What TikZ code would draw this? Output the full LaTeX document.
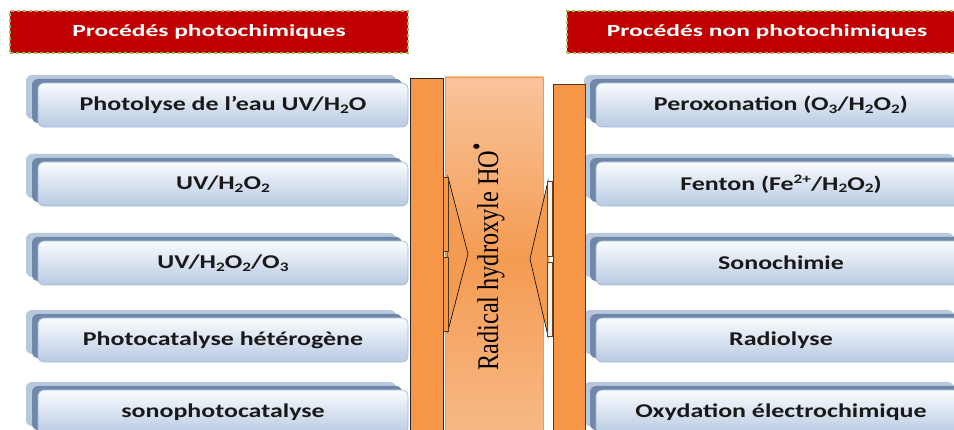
\documentclass[tikz,border=0pt]{standalone}
\usepackage{fontspec}
\setmainfont{Carlito}
\newfontfamily\serifa{Liberation Serif}
\definecolor{hdrred}{HTML}{C00000}
\definecolor{hdrgreen}{HTML}{9BBB59}
\definecolor{barorange}{HTML}{F79646}
\definecolor{shlight}{HTML}{B9C9DD}
\definecolor{shdark}{HTML}{6F87A8}
\definecolor{boxtop}{HTML}{FAFCFE}
\definecolor{boxbot}{HTML}{B8CAE2}
\definecolor{boxline}{HTML}{9DB5D6}
\definecolor{midtop}{HTML}{F9C49B}
\definecolor{midmid}{HTML}{F49B52}
\definecolor{midbot}{HTML}{F8BA88}
\newcommand{\ind}[1]{\raisebox{-0.28ex}{\fontsize{13}{13}\selectfont #1}}
\newcommand{\expo}[1]{\raisebox{0.75ex}{\fontsize{13}{13}\selectfont #1}}
\newcommand{\wide}[1]{\scalebox{1.33}[1]{#1}}
\newcommand{\wider}[1]{\scalebox{1.5}[1]{#1}}
\tikzset{
  header/.style={fill=hdrred, draw=hdrgreen, dashed, line width=1.3pt,
    minimum height=42pt, text=white, font=\fontsize{17}{20}\selectfont\bfseries},
  procbox/.style={rounded corners=6pt, top color=boxtop, bottom color=boxbot,
    draw=boxline, line width=0.6pt, minimum width=370pt, minimum height=44pt,
    inner sep=0pt, font=\fontsize{19.5}{22}\selectfont\bfseries, text=black!90},
  shadelight/.style={fill=shlight, rounded corners=6pt},
  shadedark/.style={fill=shdark, rounded corners=6pt},
  orangebar/.style={fill=barorange},
  chevron/.style={draw=black, line width=0.6pt, line join=miter},
}
\newcommand{\procrow}[4]{%
  \fill[shadelight] ({#2-197},{#3-8}) rectangle ++(370,44);
  \fill[shadedark] ({#2-191},{#3-4}) rectangle ++(370,44);
  \node[procbox] (#1) at (#2,{#3+22}) {\wide{#4}};
}
\begin{document}
\begin{tikzpicture}[x=1pt,y=-1pt]
\useasboundingbox (0,0) rectangle (954,430);
\clip (0,0) rectangle (954,430);
\fill[white] (0,0) rectangle (954,430);
% headers
\node[header, minimum width=398pt] (h1) at (209,32) {\wider{Procédés photochimiques}};
\node[header, minimum width=400pt] (h2) at (767,32) {\wider{Procédés non photochimiques}};
% left boxes
\procrow{l1}{223}{83}{Photolyse de l’eau UV/H\ind{2}O}
\procrow{l2}{223}{162}{UV/H\ind{2}O\ind{2}}
\procrow{l3}{223}{241}{UV/H\ind{2}O\ind{2}/O\ind{3}}
\procrow{l4}{223}{318}{Photocatalyse hétérogène}
\procrow{l5}{223}{390}{sonophotocatalyse}
% right boxes
\procrow{r1}{781}{83}{Peroxonation (O\ind{3}/H\ind{2}O\ind{2})}
\procrow{r2}{781}{162}{Fenton (Fe\expo{2+}/H\ind{2}O\ind{2})}
\procrow{r3}{781}{241}{Sonochimie}
\procrow{r4}{781}{318}{Radiolyse}
\procrow{r5}{781}{390}{Oxydation électrochimique}
% bars
\fill[orangebar, draw=black!85, line width=0.6pt] (410,78) rectangle (443,440);
\shade[top color=midtop, bottom color=midbot, middle color=midmid, draw=barorange, line width=0.8pt]
  (445,77) rectangle (543,440);
\fill[orangebar, draw=black!55!brown, line width=0.6pt] (553,84) rectangle (585,440);
% arrows
\fill[midmid, chevron] (448,177) -- (468,254) -- (448,331) -- cycle;
\draw[barorange, fill=barorange] (448,178) -- (448,330);
\filldraw[fill=barorange, draw=black!60!brown, line width=0.5pt] (443,177) rectangle (448,251);
\filldraw[fill=barorange, draw=black!60!brown, line width=0.5pt] (443,257) rectangle (448,331);
\fill[midmid, chevron] (548,181) -- (530,259) -- (548,336) -- cycle;
\draw[midmid] (548,182) -- (548,335);
\filldraw[fill=white!88!brown, draw=black!50!brown, line width=0.5pt] (547,181) rectangle (552,256);
\filldraw[fill=white!88!brown, draw=black!50!brown, line width=0.5pt] (547,262) rectangle (552,336);
% vertical label
\node[rotate=90, inner sep=0pt, font=\serifa\fontsize{30}{30}\selectfont] (rad) at (489,257)
  {\scalebox{0.81}[1]{Radical hydroxyle HO\raisebox{0.95ex}{\fontsize{26}{26}\selectfont •}}};
\end{tikzpicture}
\end{document}
